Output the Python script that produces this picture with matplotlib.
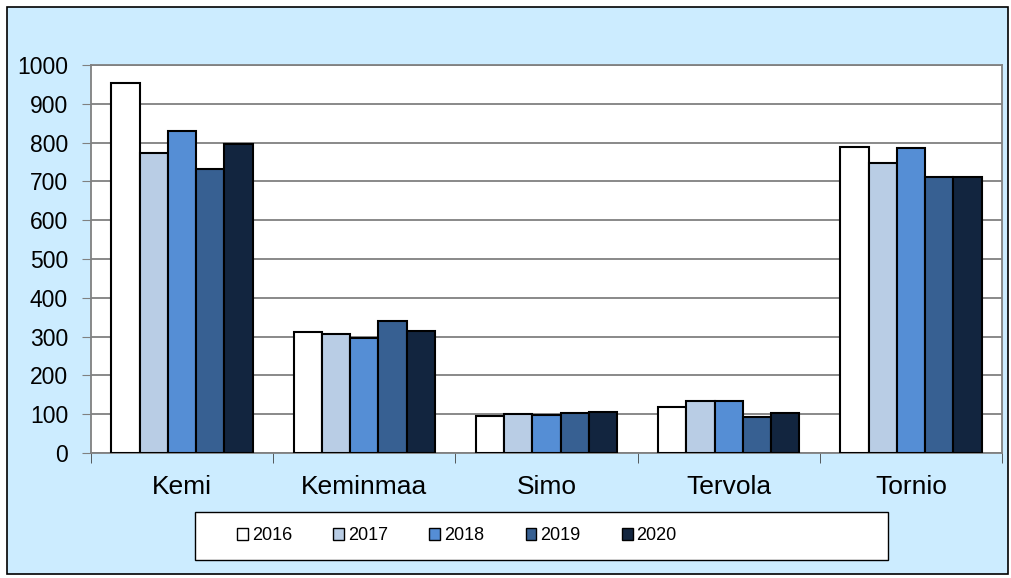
import numpy as np
import matplotlib
matplotlib.use("Agg")
import matplotlib.pyplot as plt
from matplotlib.patches import Rectangle

kunnat = ["Kemi", "Keminmaa", "Simo", "Tervola", "Tornio"]
vuodet = ["2016", "2017", "2018", "2019", "2020"]
v2016 = [953, 312, 95, 119, 789]
v2017 = [773, 307, 100, 135, 747]
v2018 = [830, 296, 97, 135, 786]
v2019 = [732, 340, 103, 92, 711]
v2020 = [796, 314, 106, 104, 711]
sarjat = [v2016, v2017, v2018, v2019, v2020]
varit = ["#FFFFFF", "#B9CDE5", "#558ED5", "#376092", "#12253F"]

plt.rcParams["font.family"] = ["Liberation Sans", "DejaVu Sans"]

fig = plt.figure(figsize=(10.12, 5.78), dpi=100)
fig.patch.set_facecolor("white")
# taustalaatikko
fig.patches.append(Rectangle((7/1012, 4/578), 1001/1012, 567/578, transform=fig.transFigure,
                             facecolor="#CCECFF", edgecolor="black", linewidth=1.2, zorder=-10))

ax = fig.add_axes([91/1012, 1-453/578, 911/1012, 388/578])
ax.set_facecolor("white")

x = np.arange(len(kunnat))
w = 0.155
for i, (vals, c) in enumerate(zip(sarjat, varit)):
    ax.bar(x + (i - 2) * w, vals, width=w, color=c, edgecolor="black",
           linewidth=1.5, label=vuodet[i], zorder=3)

ax.set_xlim(-0.5, len(kunnat) - 0.5)
ax.set_ylim(0, 1000)
ax.set_yticks(range(0, 1001, 100))
ax.grid(axis="y", color="#808080", linewidth=1.3, zorder=0)
ax.set_axisbelow(True)
for s in ax.spines.values():
    s.set_color("#808080")
    s.set_linewidth(1.3)

ax.set_xticks(x)
ax.set_xticklabels(kunnat, fontsize=19)
ax.set_xticks(np.arange(-0.5, len(kunnat)), minor=True)
ax.tick_params(axis="x", which="major", length=0, pad=16)
ax.tick_params(axis="x", which="minor", length=7, color="#404040", direction="out")
ax.tick_params(axis="y", length=6.5, color="#808080", labelsize=16.5, pad=10)

# selitelaatikko
fig.patches.append(Rectangle((195/1012, 1-560/578), 693/1012, 48/578, transform=fig.transFigure,
                             facecolor="white", edgecolor="black", linewidth=1.0, zorder=-5))
leg = fig.legend(loc="center left", bbox_to_anchor=(221/1012, 1-536/578), ncol=5,
                 frameon=False, fontsize=13, handlelength=0.6, handleheight=0.6,
                 handletextpad=0.2, columnspacing=2.3)
for h in leg.legend_handles:
    h.set_linewidth(1.0)

fig.savefig("out.png", dpi=100, facecolor=fig.get_facecolor())
